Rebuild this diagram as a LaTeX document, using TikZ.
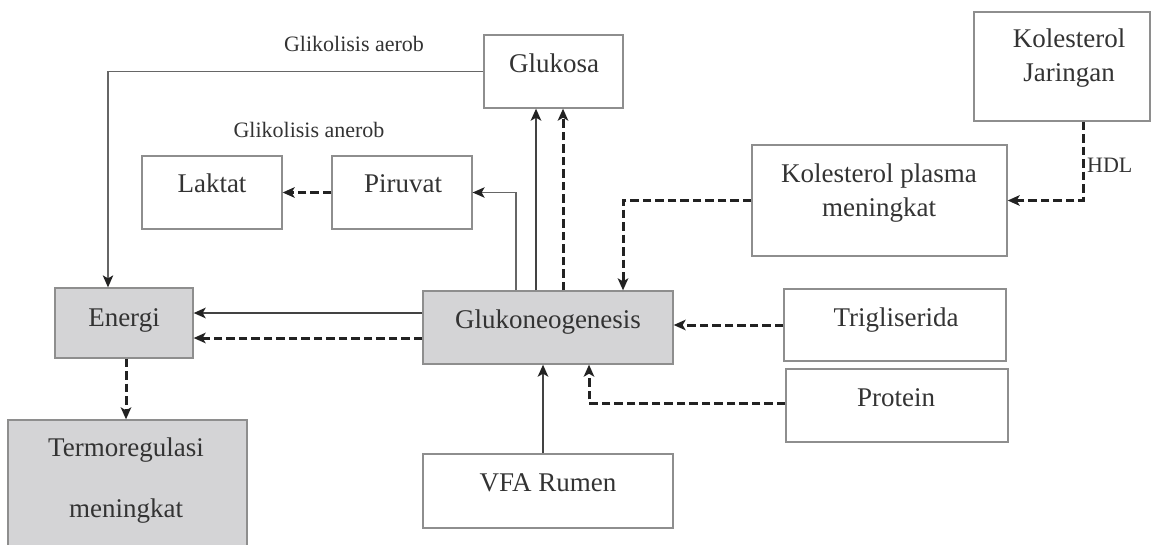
\documentclass[tikz,border=0pt]{standalone}
\usepackage{fontspec}
\setmainfont{Liberation Serif}
\usetikzlibrary{arrows.meta}
\definecolor{boxline}{HTML}{8E8E8E}
\definecolor{boxfill}{HTML}{D4D4D6}
\definecolor{txt}{HTML}{333333}
\definecolor{ink}{HTML}{222222}
\definecolor{thinink}{HTML}{666666}
\begin{document}
\begin{tikzpicture}[x=1pt,y=-1pt,
  box/.style={draw=boxline, line width=1.3pt, fill=white, inner sep=0pt},
  gbox/.style={box, fill=boxfill},
  lbl/.style={anchor=base, text=txt, font=\fontsize{27}{34}\selectfont, inner sep=0pt},
  slbl/.style={anchor=base, text=txt, font=\fontsize{22}{26}\selectfont, inner sep=0pt},
  tip/.style={-{Stealth[length=12pt,width=10.5pt,inset=3pt,color=ink]}},
  thinarr/.style={draw=thinink, line width=1.3pt, tip},
  solidarr/.style={draw=ink!85, line width=2.2pt, tip},
  dasharr/.style={draw=ink, line width=3pt, dash pattern=on 8.5pt off 4pt, tip},
]
\useasboundingbox (0,0) rectangle (1153,544);
\clip (0,0) rectangle (1153,544);

% boxes
\node[box, minimum width=139pt, minimum height=73pt] (glukosa) at (553.5,71.5) {};
\node[box, minimum width=176pt, minimum height=109pt] (koljar) at (1062,66.5) {};
\node[box, minimum width=140pt, minimum height=73pt] (laktat) at (212,192.5) {};
\node[box, minimum width=140pt, minimum height=73pt] (piruvat) at (402,192.5) {};
\node[box, minimum width=255pt, minimum height=111pt] (plasma) at (879.5,200.5) {};
\node[gbox, minimum width=138pt, minimum height=70pt] (energi) at (124,323) {};
\node[gbox, minimum width=250pt, minimum height=73pt] (gluko) at (548,327.5) {};
\node[box, minimum width=222pt, minimum height=72pt] (trig) at (895,325) {};
\node[box, minimum width=222pt, minimum height=73pt] (protein) at (897,405.5) {};
\node[box, minimum width=250pt, minimum height=74pt] (vfa) at (548,491) {};
\node[gbox, minimum width=239pt, minimum height=140pt] (termo) at (127.5,490) {};

% texts
\node[lbl] (tglukosa) at (554,72) {Glukosa};
\node[lbl] (tkoljar1) at (1069,47) {Kolesterol};
\node[lbl] (tkoljar2) at (1069,81) {Jaringan};
\node[lbl] (tlaktat) at (212,192) {Laktat};
\node[lbl] (tpiruvat) at (403,192) {Piruvat};
\node[lbl] (tplasma1) at (879,182) {Kolesterol plasma};
\node[lbl] (tplasma2) at (879,216) {meningkat};
\node[lbl] (tenergi) at (124,326) {Energi};
\node[lbl] (tgluko) at (548,328) {Glukoneogenesis};
\node[lbl] (ttrig) at (896,326) {Trigliserida};
\node[lbl] (tprotein) at (896,406) {Protein};
\node[lbl] (tvfa) at (548,491) {VFA Rumen};
\node[lbl] (ttermo1) at (126,456) {Termoregulasi};
\node[lbl] (ttermo2) at (126,517) {meningkat};
\node[slbl] (taerob) at (354,51) {Glikolisis aerob};
\node[slbl] (tanerob) at (309,137) {Glikolisis anerob};
\node[slbl, anchor=base west] (thdl) at (1087,172) {HDL};

% connectors
\coordinate (ea) at ([xshift=-16pt]energi.north);
\draw[thinarr] (glukosa.west) -| (ea);

\coordinate (gp) at ([xshift=-32pt]gluko.north);
\draw[thinarr] (gp) |- (piruvat.east);

\coordinate (gs) at ([xshift=-12pt]gluko.north);
\draw[solidarr] (gs) -- (gs |- glukosa.south);
\coordinate (gd) at ([xshift=15pt]gluko.north);
\draw[dasharr] (gd) -- (gd |- glukosa.south);

\draw[dasharr] (piruvat.west) -- (laktat.east);

\coordinate (kj) at ([xshift=21pt]koljar.south);
\draw[dasharr] (kj) |- (plasma.east);

\coordinate (gk) at ([xshift=75pt]gluko.north);
\draw[dasharr] (plasma.west) -| (gk);

\coordinate (g1) at ([yshift=14.5pt]gluko.west);
\draw[solidarr] (g1) -- (g1 -| energi.east);
\coordinate (g2) at ([yshift=-10.5pt]gluko.west);
\draw[dasharr] (g2) -- (g2 -| energi.east);

\draw[dasharr] (trig.west) -- (trig.west -| gluko.east);

\coordinate (gpr) at ([xshift=41pt]gluko.south);
\coordinate (pw) at ([yshift=2.5pt]protein.west);
\draw[dasharr] (pw) -| (gpr);

\coordinate (v1) at ([xshift=-5pt]vfa.north);
\draw[solidarr] (v1) -- (v1 |- gluko.south);

\coordinate (et) at ([xshift=2pt]energi.south);
\draw[dasharr] (et) -- (et |- termo.north);
\end{tikzpicture}
\end{document}
